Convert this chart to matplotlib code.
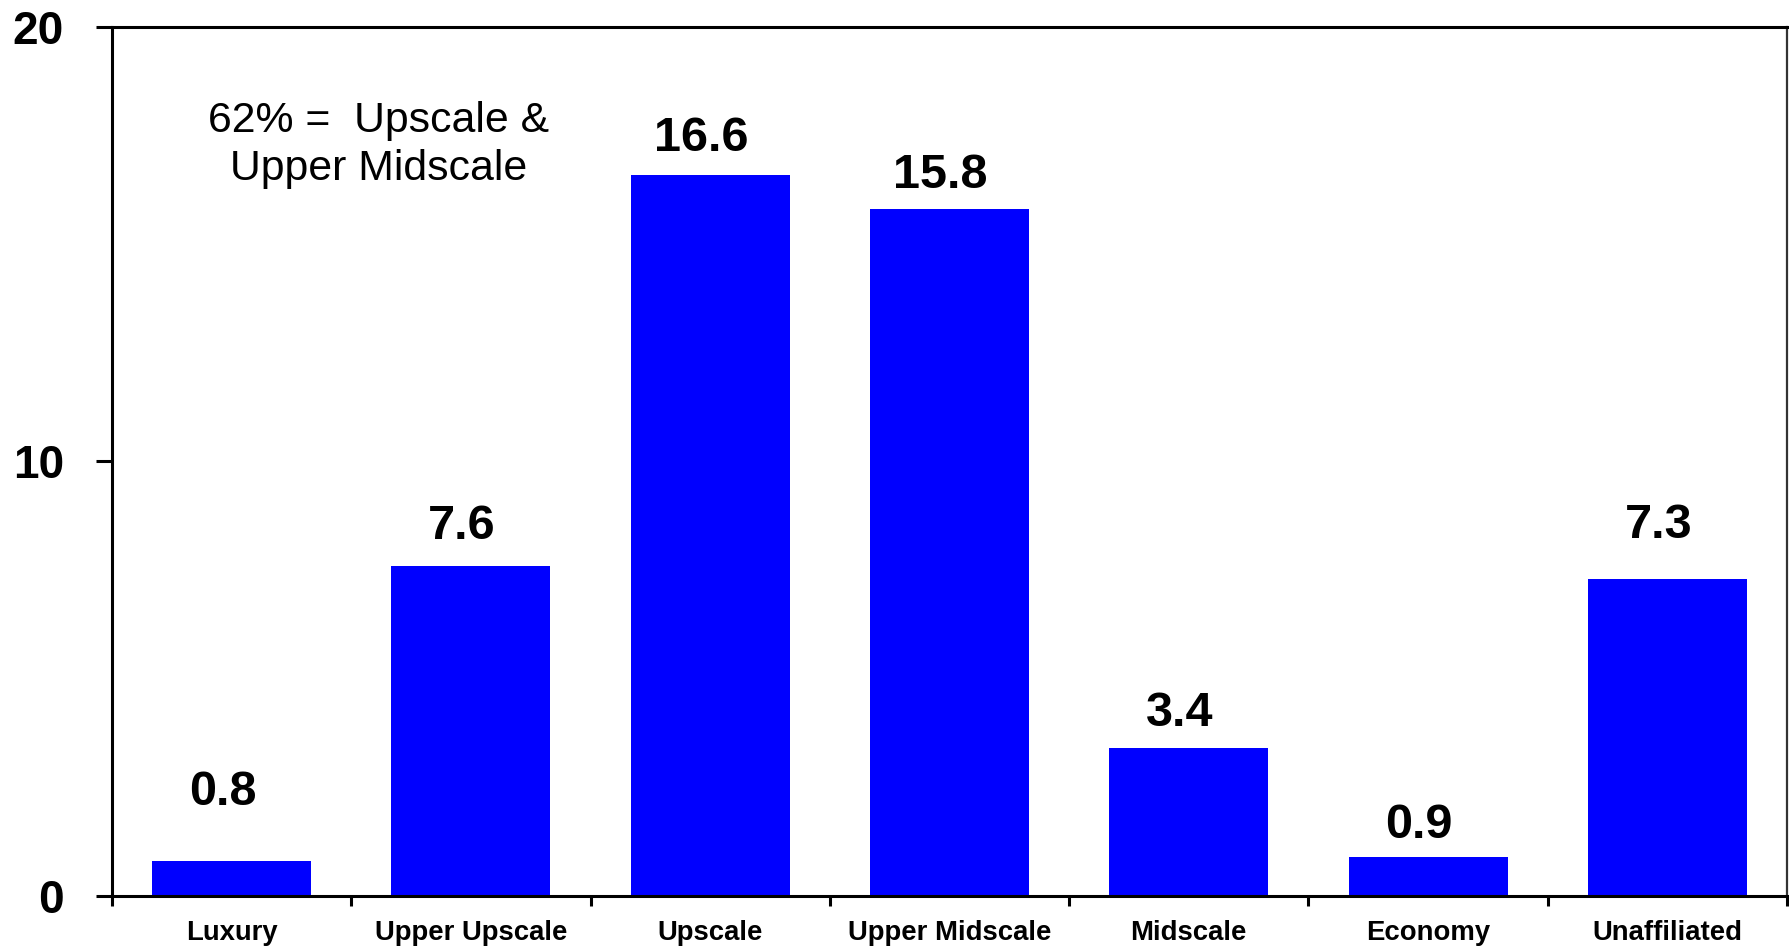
import matplotlib
matplotlib.use("Agg")
import matplotlib.pyplot as plt
import numpy as np

# Share of hotel supply by chain scale
categories = ["Luxury", "Upper Upscale", "Upscale", "Upper Midscale",
              "Midscale", "Economy", "Unaffiliated"]
values = [0.8, 7.6, 16.6, 15.8, 3.4, 0.9, 7.3]
y_ticks = [0, 10, 20]
note_text = "62% =  Upscale &\nUpper Midscale"

# gap (in pixels) between each bar top and the baseline of its label
label_gaps_px = [56, 27, 24, 21, 22, 19, 41]

DPI = 100
W, H = 1789, 946
fig = plt.figure(figsize=(W / DPI, H / DPI), dpi=DPI, facecolor="white")
ax = fig.add_axes([112 / W, 1 - 896 / H, (1787 - 112) / W, (896 - 27) / H])

x = np.arange(len(categories))
ax.bar(x, values, width=0.665, color="#0000FF", edgecolor="none", zorder=2)

ax.set_xlim(-0.5, len(categories) - 0.5)
ax.set_ylim(0, 20)

bold = dict(family="Liberation Sans", weight="bold")
for i, v in enumerate(values):
    ax.annotate(f"{v}", xy=(i, v),
                xytext=(-9 * 72 / DPI, label_gaps_px[i] * 72 / DPI),
                textcoords="offset points", ha="center", va="baseline",
                fontsize=35, color="black", **bold)

# Frame
for side in ["left", "bottom", "top"]:
    ax.spines[side].set_linewidth(2.2)
    ax.spines[side].set_color("black")
ax.spines["right"].set_linewidth(1.6)
ax.spines["right"].set_color("#333333")

# Y axis
ax.set_yticks(y_ticks)
ax.set_yticklabels([str(t) for t in y_ticks], fontsize=33, **bold)
ax.tick_params(axis="y", direction="out", length=11.5, width=2.2, pad=23)

# X axis: labels under bars, tick marks at category boundaries
ax.set_xticks(x)
ax.set_xticklabels(categories, fontsize=19.8, **bold)
ax.tick_params(axis="x", which="major", length=0, pad=17)
ax.set_xticks(np.arange(-0.5, len(categories), 1.0), minor=True)
ax.tick_params(axis="x", which="minor", direction="out", length=7.5, width=2.2)

ax.text(379 / W, 1 - 145 / H, note_text, transform=fig.transFigure,
        ha="center", va="center", fontsize=30.8, family="Liberation Sans",
        linespacing=1.25, color="black", multialignment="center")

fig.savefig("out.png", dpi=DPI, facecolor="white")
